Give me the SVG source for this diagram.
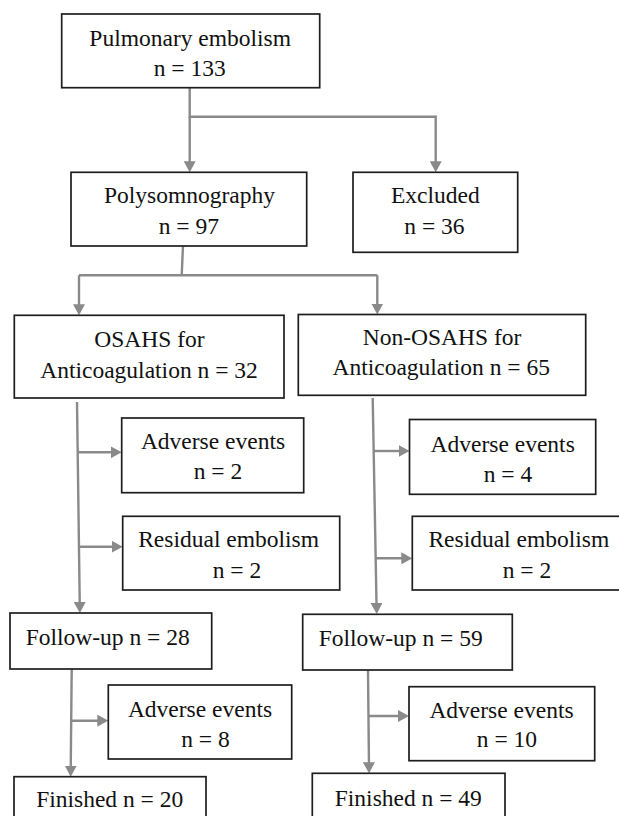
<svg xmlns="http://www.w3.org/2000/svg" width="619" height="816" viewBox="0 0 619 816">
<style>
.box{fill:#fff;stroke:#1e1e1e;stroke-width:1.7}
.t{font-family:'Liberation Serif','Times New Roman','DejaVu Serif',serif;font-size:23.5px;fill:#111;text-anchor:middle}
.c{fill:none;stroke:#8a8a8a;stroke-width:2.4}
.a{marker-end:url(#ah)}
</style>
<defs>
<marker id="ah" viewBox="0 0 11 12" refX="6" refY="6" markerWidth="11" markerHeight="12" markerUnits="userSpaceOnUse" orient="auto">
<path d="M0,0 L11,6 L0,12 z" fill="#8a8a8a"/>
</marker>
</defs>
<rect width="619" height="816" fill="#fff"/>
<g id="connectors">
<path class="c" d="M189.7,87.7 V116.7 H435.7 V150"/>
<path class="c a" d="M189.7,116.7 V167.3"/>
<path class="c a" d="M435.7,150 V167.3"/>
<path class="c" d="M183,246 L181.7,275.3 M79,275.3 H377.3"/>
<path class="c a" d="M79,275.3 V310.3"/>
<path class="c a" d="M377.3,275.3 V309.5"/>
<path class="c a" d="M77,402 L79.8,608"/>
<path class="c a" d="M78,452.3 H116.7"/>
<path class="c a" d="M79.2,546.7 H117.7"/>
<path class="c a" d="M372.7,398 L376.6,609"/>
<path class="c a" d="M373.8,451 H404.5"/>
<path class="c a" d="M375.8,558.3 H407.3"/>
<path class="c a" d="M71.7,669 L70.7,771.7"/>
<path class="c a" d="M71,720.7 H103.3"/>
<path class="c a" d="M368,670 L369,768.3"/>
<path class="c a" d="M368.5,716 H404"/>
</g>
<g font-family="Liberation Serif, Times New Roman, serif">
<g id="n-pe"><rect class="box" x="61.7" y="14" width="258" height="73.7"/><text class="t" x="190.2" y="45.7">Pulmonary embolism</text><text class="t" x="189.7" y="76">n = 133</text></g>
<g id="n-psg"><rect class="box" x="71" y="172.3" width="235.7" height="73.7"/><text class="t" x="189.5" y="203.3">Polysomnography</text><text class="t" x="188.8" y="234.3">n = 97</text></g>
<g id="n-excl"><rect class="box" x="353" y="172.3" width="164.7" height="80"/><text class="t" x="435.3" y="203.3">Excluded</text><text class="t" x="434.5" y="234.3">n = 36</text></g>
<g id="n-osahs"><rect class="box" x="14.3" y="315.3" width="269.7" height="82.7"/><text class="t" x="149.5" y="347.3">OSAHS for</text><text class="t" x="149" y="378">Anticoagulation n = 32</text></g>
<g id="n-nonosahs"><rect class="box" x="298.3" y="314.5" width="287.4" height="80.8"/><text class="t" x="442" y="345.3">Non-OSAHS for</text><text class="t" x="441.2" y="375.3">Anticoagulation n = 65</text></g>
<g id="n-ae1"><rect class="box" x="121.7" y="418" width="182" height="74.7"/><text class="t" x="213" y="449">Adverse events</text><text class="t" x="218" y="479.3">n = 2</text></g>
<g id="n-re1"><rect class="box" x="122.7" y="516.3" width="217" height="73.7"/><text class="t" x="228.6" y="547.3">Residual embolism</text><text class="t" x="237" y="578.3">n = 2</text></g>
<g id="n-ae2"><rect class="box" x="409.5" y="419.5" width="186.2" height="74.8"/><text class="t" x="502.7" y="452">Adverse events</text><text class="t" x="508" y="482">n = 4</text></g>
<g id="n-re2"><rect class="box" x="412.3" y="516.3" width="220" height="73.7"/><text class="t" x="518.8" y="547.3">Residual embolism</text><text class="t" x="527" y="578.3">n = 2</text></g>
<g id="n-fu1"><rect class="box" x="10" y="613" width="201.7" height="56"/><text class="t" x="107.7" y="645">Follow-up n = 28</text></g>
<g id="n-fu2"><rect class="box" x="302.7" y="614.3" width="209.6" height="55.7"/><text class="t" x="400.7" y="645.7">Follow-up n = 59</text></g>
<g id="n-ae3"><rect class="box" x="108.3" y="685" width="183.4" height="74"/><text class="t" x="200" y="716.7">Adverse events</text><text class="t" x="205.5" y="746.7">n = 8</text></g>
<g id="n-ae4"><rect class="box" x="409" y="686.7" width="185.7" height="74"/><text class="t" x="501.5" y="718">Adverse events</text><text class="t" x="507" y="747.3">n = 10</text></g>
<g id="n-fin1"><rect class="box" x="14" y="776.7" width="192" height="60"/><text class="t" x="109.7" y="807.3">Finished n = 20</text></g>
<g id="n-fin2"><rect class="box" x="312.3" y="773.3" width="192.7" height="60"/><text class="t" x="408.3" y="805.7">Finished n = 49</text></g>
</g>
</svg>
